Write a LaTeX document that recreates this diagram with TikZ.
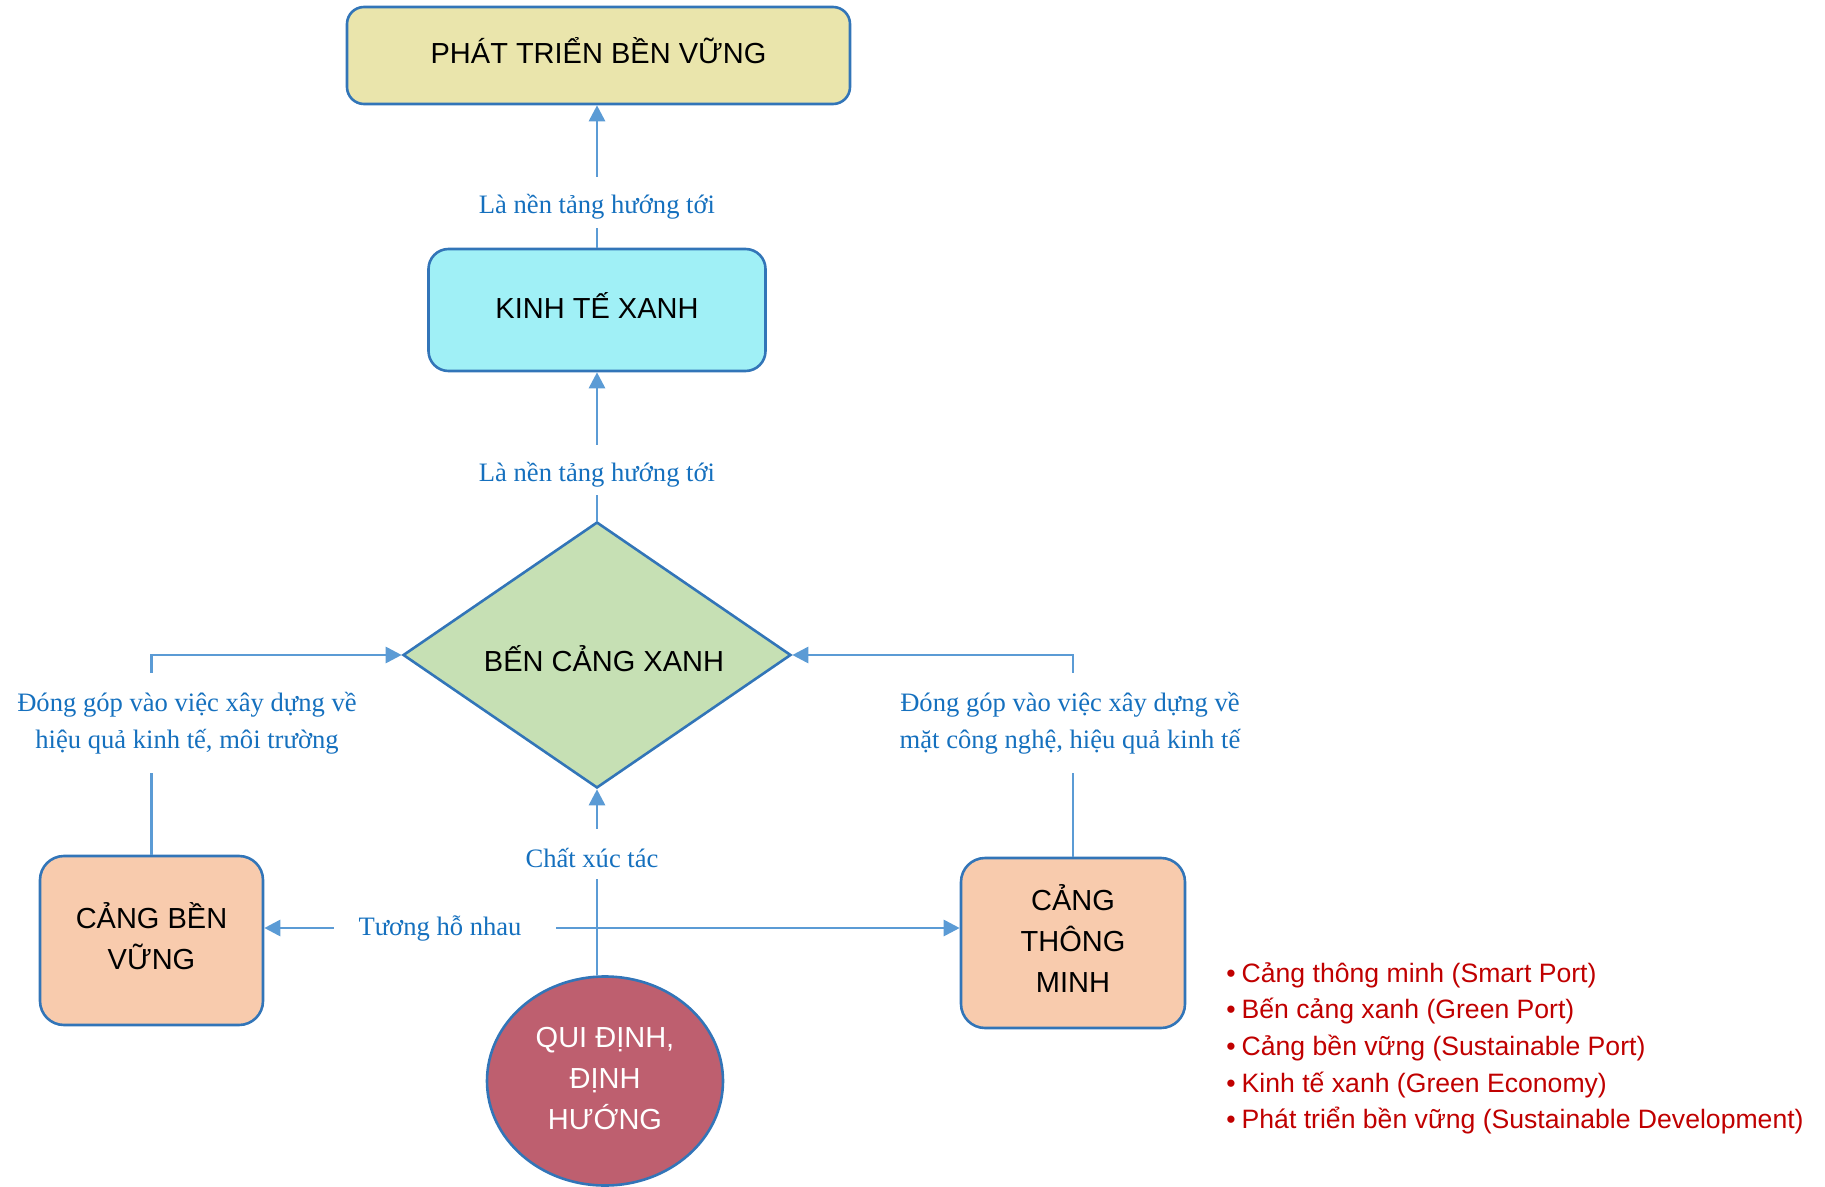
\documentclass[tikz,border=0pt]{standalone}
\usepackage{fontspec}
\setmainfont{Liberation Sans}
\newfontfamily\tnr{Liberation Serif}
\usetikzlibrary{shapes.geometric,arrows.meta}
\definecolor{bordc}{HTML}{3275B8}
\definecolor{connc}{HTML}{5B9BD5}
\definecolor{labc}{HTML}{1570BE}
\definecolor{khaki}{HTML}{EAE5AC}
\definecolor{cyanc}{HTML}{A0F0F6}
\definecolor{greenc}{HTML}{C6E0B4}
\definecolor{peach}{HTML}{F8CBAD}
\definecolor{rosec}{HTML}{BE5F6F}
\definecolor{redc}{HTML}{C00000}
\newcommand{\mvtext}[2]{\raisebox{#1}[\height][\depth]{\begin{tabular}{@{}c@{}}#2\end{tabular}}}
\newcommand{\mvlab}[2]{\raisebox{#1}[\height][\depth]{#2}}
\begin{document}
\begin{tikzpicture}[x=0.5pt,y=-0.5pt,
  box/.style={draw=bordc, line width=1.3pt, align=center, inner sep=0pt,
    font=\fontsize{14.5}{20.5}\selectfont},
  lab/.style={font=\tnr\fontsize{13.3}{18.5}\selectfont, text=labc, align=center, inner sep=0pt},
  conn/.style={draw=connc, line width=1.4pt},
  arr/.style={-{Triangle[length=8pt,width=8pt]}},
  legend/.style={anchor=base west, inner sep=0pt, text=redc, font=\fontsize{13.3}{16}\selectfont}]
\useasboundingbox (0,0) rectangle (1825,1187);

% main shapes
\node[box, fill=khaki, minimum width=251.5pt, minimum height=48.5pt, rounded corners=8.5pt] (ptbv) at (598.5,55.5) {\mvtext{0pt}{PHÁT TRIỂN BỀN VỮNG}};
\node[box, fill=cyanc, minimum width=168.5pt, minimum height=61pt, rounded corners=10pt] (ktx) at (597,310) {\mvtext{0pt}{KINH TẾ XANH}};
\node[diamond, aspect=1.53, draw=bordc, line width=1.3pt, fill=greenc, minimum width=194pt, minimum height=133pt, inner sep=0pt,
  font=\fontsize{14.5}{20.5}\selectfont] (dia) at (597,655) {\hspace{7pt}\mvtext{-4.1pt}{BẾN CẢNG XANH}};
\node[box, fill=peach, minimum width=111.5pt, minimum height=84.5pt, rounded corners=12pt] (cbv) at (151.5,940.5) {\mvtext{0pt}{CẢNG BỀN\\VỮNG}};
\node[box, fill=peach, minimum width=112pt, minimum height=85pt, rounded corners=12pt] (ctm) at (1073,943) {\mvtext{0pt}{CẢNG\\THÔNG\\MINH}};
\node[ellipse, draw=bordc, line width=1.3pt, fill=rosec, minimum width=118pt, minimum height=104.5pt, inner sep=0pt,
  text=white, align=center, font=\fontsize{14.5}{20.5}\selectfont] (qd) at (605,1081) {\mvtext{0.4pt}{QUI ĐỊNH,\\ĐỊNH\\HƯỚNG}};

% connector labels
\node[lab, minimum height=25.5pt] (l1) at (597,202.5) {\mvlab{-2pt}{Là nền tảng hướng tới}};
\node[lab, minimum height=25pt] (l2) at (597,470) {\mvlab{-2.3pt}{Là nền tảng hướng tới}};
\node[lab, minimum height=50pt] (l3) at (187,723) {Đóng góp vào việc xây dựng về\\hiệu quả kinh tế, môi trường};
\node[lab, minimum height=50pt] (l4) at (1070,723) {Đóng góp vào việc xây dựng về\\mặt công nghệ, hiệu quả kinh tế};
\node[lab, minimum width=111pt, minimum height=20pt] (l5) at (445,928) {\hspace{-5pt}Tương hỗ nhau};
\node[lab, minimum height=25pt] (l6) at (597,854) {\hspace{-5pt}\mvlab{-2pt}{Chất xúc tác}};

% connectors
\draw[conn] (ktx.north) -- (l1.south);
\draw[conn,arr] (l1.north) -- (l1.north |- ptbv.south);
\draw[conn] (dia.north) -- (l2.south);
\draw[conn,arr] (l2.north) -- (ktx.south);
\draw[conn] (cbv.north) -- (cbv.north |- l3.south);
\draw[conn,arr] (cbv.north |- l3.north) |- (dia.west);
\draw[conn] (ctm.north) -- (ctm.north |- l4.south);
\draw[conn,arr] (ctm.north |- l4.north) |- (dia.east);
\draw[conn,arr] (l5.west) -- (l5.west -| cbv.east);
\draw[conn,arr] (l5.east) -- (l5.east -| ctm.west);
\draw[conn] (qd.north -| dia.south) -- (l6.south);
\draw[conn,arr] (l6.north) -- (dia.south);

% legend
\node[legend] (g1) at (1226,982) {•\hspace{3pt}Cảng thông minh (Smart Port)};
\node[legend] (g2) at (1226,1018.7) {•\hspace{3pt}Bến cảng xanh (Green Port)};
\node[legend] (g3) at (1226,1055.4) {•\hspace{3pt}Cảng bền vững (Sustainable Port)};
\node[legend] (g4) at (1226,1092.1) {•\hspace{3pt}Kinh tế xanh (Green Economy)};
\node[legend] (g5) at (1226,1128.8) {•\hspace{3pt}Phát triển bền vững (Sustainable Development)};
\end{tikzpicture}
\end{document}
